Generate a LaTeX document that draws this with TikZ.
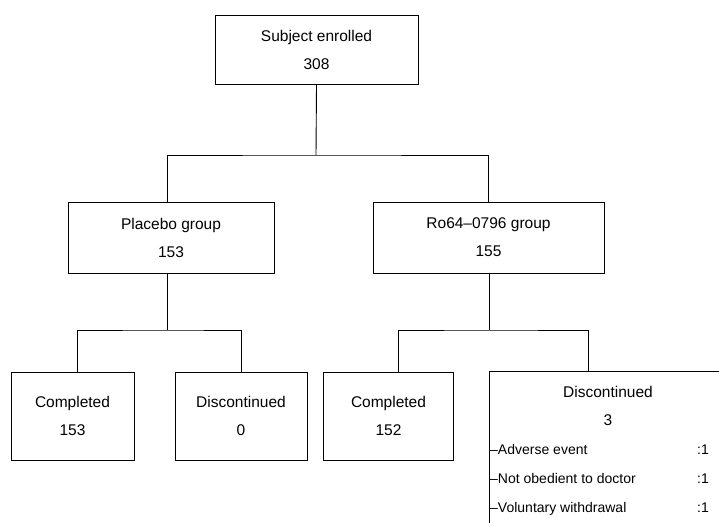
\documentclass[tikz,border=0pt]{standalone}
\usepackage{fontspec}
\setmainfont{Liberation Sans}
\begin{document}
\begin{tikzpicture}[x=1pt,y=-1pt,
  box/.style={draw=black,line width=0.9pt,rectangle,inner sep=0pt,align=center,font=\fontsize{15.5}{28}\selectfont},
  conn/.style={draw=black,line width=0.9pt},
  detail/.style={anchor=base west,inner sep=0pt,font=\fontsize{14}{16}\selectfont}]
\useasboundingbox (0,0) rectangle (719,522);
\clip (0,0) rectangle (719,522);
% boxes
\node[box,minimum width=203pt,minimum height=69pt] (top) at (316.5,49.5) {Subject enrolled\\308};
\node[box,minimum width=206pt,minimum height=71pt] (pla) at (171,237.5) {Placebo group\\153};
\node[box,minimum width=231pt,minimum height=71pt] (ro) at (488.5,237.5) {Ro64–0796 group\\155};
\node[box,minimum width=123pt,minimum height=88pt] (pc) at (72.5,416) {Completed\\153};
\node[box,minimum width=132pt,minimum height=88pt] (pd) at (241,416) {Discontinued\\0};
\node[box,minimum width=130pt,minimum height=88pt] (rc) at (388.5,416) {Completed\\152};
\node[box,minimum width=240pt,minimum height=162pt] (rd) at (609,452) {};
% discontinued details
\node[font=\fontsize{15.5}{18}\selectfont,inner sep=0pt] (rdt) at (608,392) {Discontinued};
\node[font=\fontsize{15.5}{18}\selectfont,inner sep=0pt] (rdn) at (608,420) {3};
\node[detail] (d1) at (490,454) {–Adverse event};
\node[detail] (d2) at (490,483) {–Not obedient to doctor};
\node[detail] (d3) at (490,512) {–Voluntary withdrawal};
\node[detail] (c1) at (697,454) {:1};
\node[detail] (c2) at (697,483) {:1};
\node[detail] (c3) at (697,512) {:1};
% connectors
\coordinate (j1) at (316,155);
\coordinate (j2) at (167,330);
\coordinate (j3) at (489,330);
\draw[conn] (top.south) -- (j1);
\draw[conn] (pla.north -| 167,0) |- (j1) -| (ro.north);
\draw[conn] (pla.south -| j2) -- (j2);
\draw[conn] (pc.north -| 77,0) |- (j2) -| (pd.north -| 241,0);
\draw[conn] (ro.south -| j3) -- (j3);
\draw[conn] (rc.north -| 398,0) |- (j3) -| (rd.north -| 588,0);
\end{tikzpicture}
\end{document}
